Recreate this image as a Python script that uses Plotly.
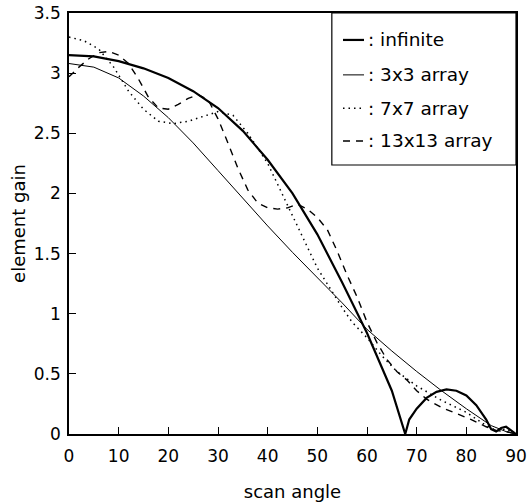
import plotly.graph_objects as go

# Element gain versus scan angle for an infinite array and finite arrays
angle_inf = [0, 5, 10, 15, 20, 25, 30, 35, 40, 45, 50, 55, 60, 65, 67.7,
             68.5, 70, 72, 74, 76, 78, 80, 82, 84, 85, 86, 87, 88, 89, 90]
gain_inf = [3.15, 3.14, 3.10, 3.04, 2.96, 2.85, 2.71, 2.52, 2.28, 2.00, 1.66,
            1.26, 0.84, 0.36, 0.0, 0.12, 0.21, 0.30, 0.35, 0.37, 0.36, 0.32,
            0.24, 0.12, 0.04, 0.02, 0.05, 0.06, 0.03, 0.0]

angle_3 = [0, 5, 10, 15, 20, 25, 30, 35, 40, 45, 50, 55, 60, 65, 70, 75, 80,
           85, 88, 90]
gain_3 = [3.08, 3.05, 2.96, 2.81, 2.63, 2.42, 2.19, 1.96, 1.73, 1.51, 1.30,
          1.09, 0.87, 0.69, 0.52, 0.36, 0.21, 0.07, 0.02, 0.0]

angle_7 = [0, 3, 6, 9, 12, 15, 18, 21, 24, 27, 30, 33, 36, 40, 45, 50, 55,
           57, 60, 63, 66, 70, 75, 80, 84, 86, 88, 90]
gain_7 = [3.30, 3.27, 3.20, 3.05, 2.85, 2.70, 2.60, 2.58, 2.60, 2.64, 2.68,
          2.65, 2.50, 2.25, 1.82, 1.38, 1.05, 0.93, 0.80, 0.65, 0.52, 0.40,
          0.28, 0.18, 0.07, 0.03, 0.04, 0.0]

angle_13 = [0, 2, 4, 6, 8, 10, 12, 14, 16, 18, 20, 22, 24, 26, 28, 30, 32,
            34, 36, 38, 40, 42, 44, 46, 48, 50, 52, 54, 56, 58, 60, 62, 64,
            66, 68, 70, 72, 75, 78, 81, 84, 86, 88, 90]
gain_13 = [2.97, 3.05, 3.12, 3.17, 3.18, 3.15, 3.08, 2.95, 2.80, 2.71, 2.70,
           2.74, 2.79, 2.82, 2.78, 2.62, 2.42, 2.21, 2.03, 1.92, 1.88, 1.87,
           1.88, 1.91, 1.87, 1.80, 1.70, 1.52, 1.32, 1.14, 0.93, 0.76, 0.62,
           0.52, 0.45, 0.36, 0.29, 0.22, 0.17, 0.12, 0.06, 0.03, 0.02, 0.0]

series_names = [": infinite", ": 3x3 array", ": 7x7 array", ": 13x13 array"]
x_ticks = [0, 10, 20, 30, 40, 50, 60, 70, 80, 90]
y_ticks = [0, 0.5, 1, 1.5, 2, 2.5, 3, 3.5]
y_tick_text = ["0", "0.5", "1", "1.5", "2", "2.5", "3", "3.5"]

styles = [
    dict(color="black", width=2.2, dash="solid"),
    dict(color="black", width=1.0, dash="solid"),
    dict(color="black", width=1.5, dash="1.5px,4px"),
    dict(color="black", width=1.4, dash="7px,6px"),
]

FONT = "DejaVu Sans, Verdana, sans-serif"

fig = go.Figure()
data = [(angle_inf, gain_inf), (angle_3, gain_3), (angle_7, gain_7),
        (angle_13, gain_13)]
for (xs, ys), name, st in zip(data, series_names, styles):
    fig.add_trace(go.Scatter(x=xs, y=ys, mode="lines", name=name,
                             line=st, showlegend=False))

# Legend box drawn in paper coordinates, flush with the top-right corner
box_x0, box_y0 = 0.588, 0.639
row_y = [0.936, 0.853, 0.774, 0.696]
fig.add_shape(type="rect", xref="paper", yref="paper", x0=box_x0, x1=1,
              y0=box_y0, y1=1, line=dict(color="black", width=1.2),
              fillcolor="white", layer="above")
for name, st, yy in zip(series_names, styles, row_y):
    fig.add_shape(type="line", xref="paper", yref="paper", x0=0.613,
                  x1=0.66, y0=yy, y1=yy, line=st, layer="above")
    fig.add_annotation(xref="paper", yref="paper", x=0.665, y=yy, text=name,
                       showarrow=False, xanchor="left", yanchor="middle",
                       font=dict(family=FONT, size=18.5, color="black"))

axis_common = dict(showgrid=False, zeroline=False, showline=True,
                   linecolor="black", linewidth=1.5, mirror=True,
                   ticks="inside", ticklen=7, tickcolor="black",
                   automargin=False,
                   tickfont=dict(family=FONT, size=17, color="black"))

fig.update_xaxes(range=[0, 90], tickvals=x_ticks, ticklabelstandoff=6,
                 title=dict(text="scan angle", standoff=20,
                            font=dict(family=FONT, size=18, color="black")),
                 **axis_common)
fig.update_yaxes(range=[0, 3.5], tickvals=y_ticks, ticktext=y_tick_text,
                 ticklabelstandoff=3,
                 title=dict(text="element gain", standoff=4,
                            font=dict(family=FONT, size=18, color="black")),
                 **axis_common)

fig.update_layout(width=529, height=503,
                  margin=dict(l=69, r=13, t=13, b=69, autoexpand=False),
                  paper_bgcolor="white", plot_bgcolor="white",
                  font=dict(family=FONT, color="black"))

fig.write_html("out.html")
